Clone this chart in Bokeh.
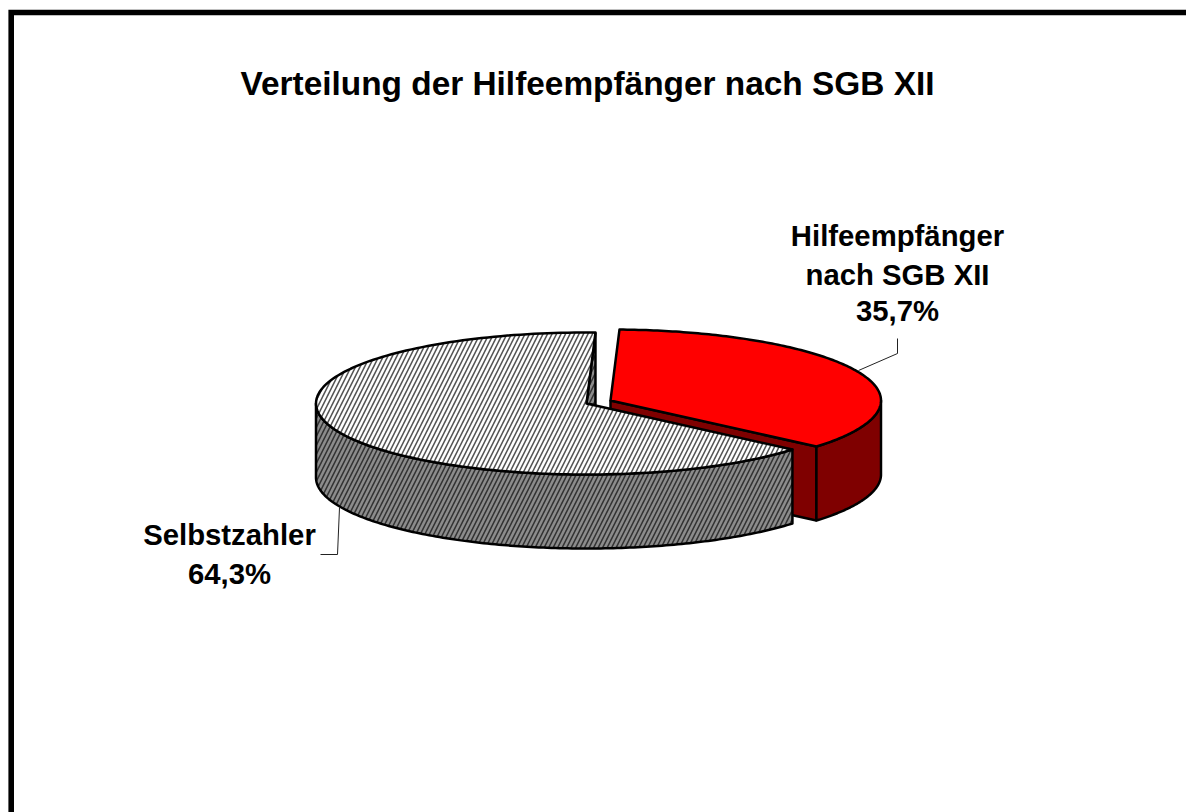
import numpy as np
from bokeh.plotting import figure
from bokeh.models import Range1d
from bokeh.embed import file_html
from bokeh.resources import INLINE
from bokeh.core.properties import value

title_text = "Verteilung der Hilfeempfänger nach SGB XII"
categories = ["Hilfeempfänger\nnach SGB XII", "Selbstzahler"]
shares = [35.7, 64.3]
share_labels = ["35,7%", "64,3%"]
start_angle = 1.9

FONT = value("Liberation Sans")
RX, RY, DEPTH = 270.5, 71, 74
C_RED = (610, 400)
C_GRAY = (586, 403)
HATCH = dict(hatch_pattern="right_diagonal_line", hatch_scale=9, hatch_weight=1.6)

p = figure(width=1186, height=812, x_range=Range1d(0, 1186), y_range=Range1d(812, 0),
           output_backend="svg", toolbar_location=None, min_border=0)
p.axis.visible = False
p.grid.visible = False
p.outline_line_color = None


def rim(c, a0, a1, dy=0.0, n=160):
    t = np.radians(np.linspace(a0, a1, n))
    return c[0] + RX * np.sin(t), c[1] - RY * np.cos(t) + dy


a_red0 = start_angle
a_red1 = a_red0 + shares[0] * 3.6
a_gray1 = a_red1 + shares[1] * 3.6

# frame (only its top and left edges fall on the page)
p.line([10.7, 10.7, 1186], [812, 12, 12], line_color="black", line_width=5.6, line_join="miter")

# red slice: radial wall, outer wall, top
xe, ye = rim(C_RED, a_red1, a_red1)
p.patch([C_RED[0], xe[0], xe[0], C_RED[0]], [C_RED[1], ye[0], ye[0] + DEPTH, C_RED[1] + DEPTH],
        fill_color="#7f0000", line_color="black", line_width=2.5)
xo, yo = rim(C_RED, 90, a_red1)
xb, yb = rim(C_RED, a_red1, 90, DEPTH)
p.patch(np.r_[xo, xb], np.r_[yo, yb], fill_color="#7f0000", line_color="black", line_width=2.5, line_join="round")
xt, yt = rim(C_RED, a_red0, a_red1)
p.patch(np.r_[C_RED[0], xt], np.r_[C_RED[1], yt], fill_color="#ff0000", line_color="black", line_width=2.5, line_join="round")

# gray slice: inner wall sliver, outer wall, top
xs, ys = rim(C_GRAY, a_gray1, a_gray1)
p.patch([C_GRAY[0], xs[0], xs[0]], [C_GRAY[1], ys[0], C_GRAY[1] + 2],
        fill_color="#8c8c8c", hatch_color="#333333", line_color="black", line_width=2.5, **HATCH)
xo, yo = rim(C_GRAY, a_red1, 270)
xb, yb = rim(C_GRAY, 270, a_red1, DEPTH)
p.patch(np.r_[xo, xb], np.r_[yo, yb], fill_color="#8c8c8c", hatch_color="#333333",
        line_color="black", line_width=2.5, line_join="round", **HATCH)
xt, yt = rim(C_GRAY, a_red1, a_gray1)
p.patch(np.r_[C_GRAY[0], xt], np.r_[C_GRAY[1], yt], fill_color="white", hatch_color="#555555",
        line_color="black", line_width=2.5, line_join="round", **HATCH)

# leaders
p.line([858, 897, 897], [370, 353, 338], line_color="#222222", line_width=1)
p.line([339, 337, 320], [507, 554, 554], line_color="#222222", line_width=1)

# texts
p.text([587], [82.5], text=[title_text], text_font=FONT, text_font_style="bold", text_font_size="33.4px",
       text_align="center", text_baseline="middle", text_color="black")
red_lines = categories[0].split("\n") + [share_labels[0]]
p.text([897, 897, 897], [235, 273.5, 310], text=red_lines, text_font=FONT, text_font_style="bold",
       text_font_size="29.3px", text_align="center", text_baseline="middle", text_color="black")
p.text([229, 229], [533.5, 572.5], text=[categories[1], share_labels[1]], text_font=FONT, text_font_style="bold",
       text_font_size="29.3px", text_align="center", text_baseline="middle", text_color="black")

open("out.html", "w").write(file_html(p, INLINE))
